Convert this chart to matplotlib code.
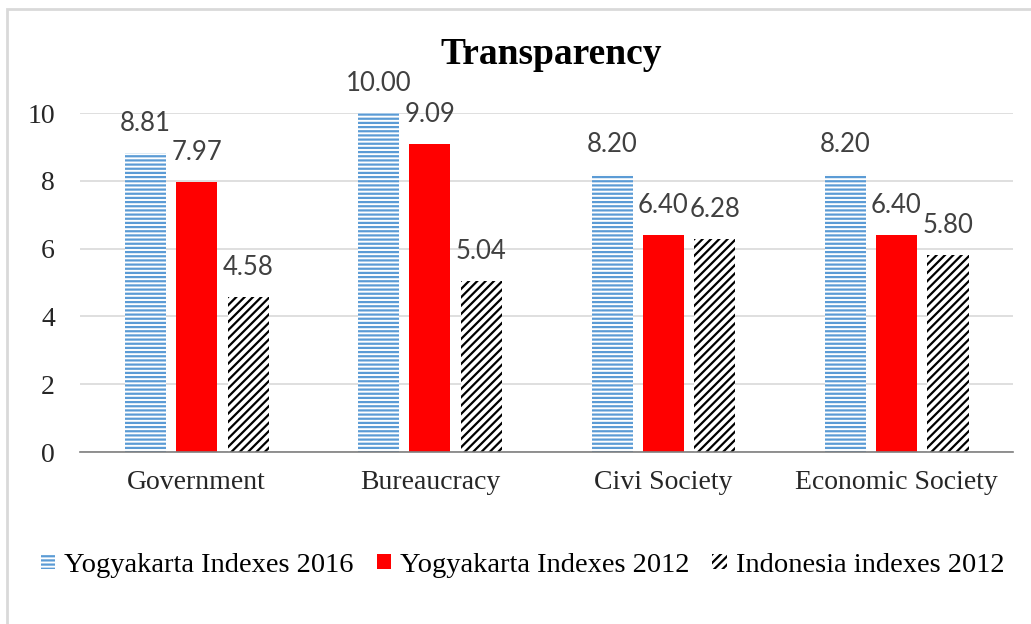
import matplotlib
matplotlib.use('Agg')
import matplotlib.pyplot as plt
import numpy as np
from matplotlib.patches import Rectangle

# data
categories = ['Government', 'Bureaucracy', 'Civi Society', 'Economic Society']
yogya_2016 = [8.81, 10.00, 8.20, 8.20]
yogya_2012 = [7.97, 9.09, 6.40, 6.40]
indo_2012 = [4.58, 5.04, 6.28, 5.80]
series_names = ['Yogyakarta Indexes 2016', 'Yogyakarta Indexes 2012', 'Indonesia indexes 2012']

plt.rcParams['hatch.linewidth'] = 1.6
serif = 'Liberation Serif'
label_font = 'Lato'

fig = plt.figure(figsize=(10.31, 6.24), dpi=100)
ax = fig.add_axes([0.0776, 0.2756, 0.905, 0.5433])

x = np.arange(len(categories))
w = 0.176
off = 0.219

b1 = ax.bar(x - off, yogya_2016, w, color='white', edgecolor='#5B9BD5',
            hatch='----', linewidth=0, label=series_names[0], zorder=3)
b2 = ax.bar(x, yogya_2012, w, color='#FF0000', edgecolor='#FF0000',
            linewidth=0, label=series_names[1], zorder=3)
b3 = ax.bar(x + off + 0.002, indo_2012, w, color='white', edgecolor='black',
            hatch='////', linewidth=0, label=series_names[2], zorder=3)

for bars, vals in [(b1, yogya_2016), (b2, yogya_2012), (b3, indo_2012)]:
    for r, v in zip(bars, vals):
        ax.text(r.get_x() + r.get_width() / 2, v + 0.5, '%.2f' % v,
                ha='center', va='bottom', fontsize=18.5, family=label_font,
                color='#404040', clip_on=False)

ax.set_xlim(-0.5, 3.5)
ax.set_ylim(0, 10)
ax.set_yticks([0, 2, 4, 6, 8, 10])
ax.set_xticks(x)
ax.set_xticklabels(categories, family=serif, fontsize=20)
ax.set_yticklabels(['0', '2', '4', '6', '8', '10'], family=serif, fontsize=20)
ax.tick_params(axis='both', length=0, colors='#262626')
ax.tick_params(axis='y', pad=18)
ax.tick_params(axis='x', pad=13)
ax.yaxis.grid(True, color='#D9D9D9', linewidth=1.2, zorder=0)
ax.set_axisbelow(True)
for s in ['top', 'right', 'left']:
    ax.spines[s].set_visible(False)
ax.spines['bottom'].set_color('#7F7F7F')
ax.spines['bottom'].set_linewidth(1.2)
ax.spines['bottom'].set_zorder(4)

fig.text(0.535, 0.913, 'Transparency', ha='center', va='center',
         fontsize=27, fontweight='bold', family=serif)

leg = fig.legend(loc='center', bbox_to_anchor=(0.507, 0.094), ncol=3, frameon=False,
                 prop={'family': serif, 'size': 20.5}, handlelength=0.5,
                 handleheight=0.45, handletextpad=0.32, columnspacing=0.8)

# outer chart border
fig.add_artist(Rectangle((0.0068, -0.1), 1.1, 1.1 - 9 / 624, transform=fig.transFigure,
                         fill=False, edgecolor='#D9D9D9', linewidth=2))

fig.savefig('out.png', dpi=100)
